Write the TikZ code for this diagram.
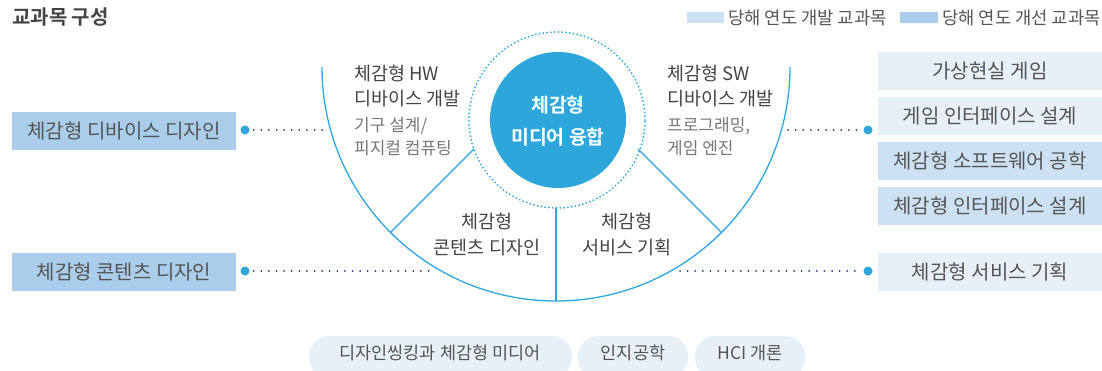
\documentclass[tikz,border=0pt]{standalone}
\usepackage{fontspec}
\setmainfont{Noto Sans CJK KR}
\newfontfamily\krbold{Noto Sans CJK KR Bold}
\definecolor{cblue}{HTML}{2EA6DC}
\definecolor{boxlight}{HTML}{E7F0F9}
\definecolor{boxmid}{HTML}{CCE1F4}
\definecolor{boxdark}{HTML}{A9CDEB}
\definecolor{txtdark}{HTML}{444444}
\definecolor{txtgray}{HTML}{777777}
\definecolor{txtbox}{HTML}{555555}
\definecolor{navydot}{HTML}{2D3A6E}
\tikzset{
  cbox/.style={minimum width=224pt, minimum height=38pt, inner sep=0pt, text=txtbox, font=\fontsize{20}{22}\selectfont},
  pill/.style={rounded corners=20pt, fill=boxlight, minimum height=42pt, inner sep=0pt, text=txtbox, font=\fontsize{17.5}{20}\selectfont},
  dotline/.style={navydot, line width=2pt, dash pattern=on 0pt off 7.6pt, line cap=round},
  enddot/.style={circle, fill=cblue, minimum size=9pt, inner sep=0pt},
  seg/.style={cblue, line width=1.3pt},
  head/.style={text=txtdark, font=\fontsize{18.5}{20}\selectfont, inner sep=0pt},
  sub/.style={text=txtgray, font=\fontsize{17}{18}\selectfont, inner sep=0pt},
}
\begin{document}
\begin{tikzpicture}[x=1pt,y=1pt]
\useasboundingbox (0,0) rectangle (1102,370);
\clip (0,0) rectangle (1102,370);
% title
\node[anchor=west, inner sep=0pt, text=txtdark, font=\krbold\fontsize{20}{22}\selectfont] (title) at (12,353) {교과목 구성};
% legend
\node[fill=boxmid, minimum width=37pt, minimum height=11pt, inner sep=0pt] (sw1) at (705.5,352.5) {};
\node[anchor=west, inner sep=0pt, text=txtbox, font=\fontsize{17.7}{19}\selectfont] (lg1) at (728,352.5) {당해 연도 개발 교과목};
\node[fill=boxdark, minimum width=38pt, minimum height=11pt, inner sep=0pt] (sw2) at (919,352.5) {};
\node[anchor=west, inner sep=0pt, text=txtbox, font=\fontsize{17.7}{19}\selectfont] (lg2) at (942,352.5) {당해 연도 개선 교과목};
% big semicircle
\draw[seg] (322,303) arc[start angle=180, end angle=360, radius=234];
\coordinate (bc) at (556,303);
\coordinate (lin1) at (474,221);
\coordinate (lout1) at (390.5,137.5);
\coordinate (rin1) at (638,221);
\coordinate (rout1) at (721.5,137.5);
\coordinate (vin) at (556,162);
\coordinate (vout) at (556,69);
\draw[seg] (lin1) -- (lout1);
\draw[seg] (rin1) -- (rout1);
\draw[seg] (vin) -- (vout);
% dotted circle and center
\draw[cblue, line width=2pt, dash pattern=on 0pt off 3.8pt, line cap=round] (557,250) circle[radius=88];
\node[circle, fill=cblue, minimum size=136pt, inner sep=0pt] (core) at (558,250) {};
\node[text=white, font=\krbold\fontsize{19.4}{21}\selectfont, inner sep=0pt] (core1) at (558,265) {체감형};
\node[text=white, font=\krbold\fontsize{19.4}{21}\selectfont, inner sep=0pt] (core2) at (558,233) {미디어 융합};
% section labels
\node[head, anchor=west] (hw1) at (354,297) {체감형 HW};
\node[head, anchor=west] (hw2) at (354,271) {디바이스 개발};
\node[sub, anchor=west] (hw3) at (354,244) {기구 설계/};
\node[sub, anchor=west] (hw4) at (354,222) {피지컬 컴퓨팅};
\node[head, anchor=west] (sw1t) at (667,297) {체감형 SW};
\node[head, anchor=west] (sw2t) at (667,271) {디바이스 개발};
\node[sub, anchor=west] (sw3t) at (667,244) {프로그래밍,};
\node[sub, anchor=west] (sw4t) at (667,222) {게임 엔진};
\node[head] (ct1) at (487,149) {체감형};
\node[head] (ct2) at (487,122) {콘텐츠 디자인};
\node[head] (sv1) at (627,149) {체감형};
\node[head] (sv2) at (627,122) {서비스 기획};
% left boxes
\node[cbox, fill=boxdark] (L1) at (124,239) {체감형 디바이스 디자인};
\node[cbox, fill=boxdark] (L2) at (124,98) {체감형 콘텐츠 디자인};
% right boxes
\node[cbox, fill=boxlight] (R1) at (990,299) {가상현실 게임};
\node[cbox, fill=boxlight] (R2) at (990,254) {게임 인터페이스 설계};
\node[cbox, fill=boxmid] (R3) at (990,209) {체감형 소프트웨어 공학};
\node[cbox, fill=boxmid] (R4) at (990,164) {체감형 인터페이스 설계};
\node[cbox, fill=boxlight] (R5) at (990,98) {체감형 서비스 기획};
% connectors
\node[enddot] (dL1) at (245,240) {};
\node[enddot] (dL2) at (245,99) {};
\node[enddot] (dR1) at (868,240) {};
\node[enddot] (dR2) at (868,99) {};
\coordinate (eL1) at (327,240);
\coordinate (eL2) at (435,99);
\coordinate (eR1) at (788,240);
\coordinate (eR2) at (680,99);
\draw[dotline] (dL1.east) ++(4,0) -- (eL1);
\draw[dotline] (dL2.east) ++(4,0) -- (eL2);
\draw[dotline] (eR1) -- ([xshift=-4pt]dR1.west);
\draw[dotline] (eR2) -- ([xshift=-4pt]dR2.west);
% pills
\node[pill, minimum width=263pt] (P1) at (440.5,13) {};
\node[text=txtbox, font=\fontsize{17.5}{20}\selectfont, inner sep=0pt] (P1t) at (440,17) {디자인씽킹과 체감형 미디어};
\node[pill, minimum width=110pt] (P2) at (633,13) {};
\node[text=txtbox, font=\fontsize{17.5}{20}\selectfont, inner sep=0pt] (P2t) at (633,17) {인지공학};
\node[pill, minimum width=110pt] (P3) at (750,13) {};
\node[text=txtbox, font=\fontsize{17.5}{20}\selectfont, inner sep=0pt] (P3t) at (750,17) {HCI 개론};
\end{tikzpicture}
\end{document}
